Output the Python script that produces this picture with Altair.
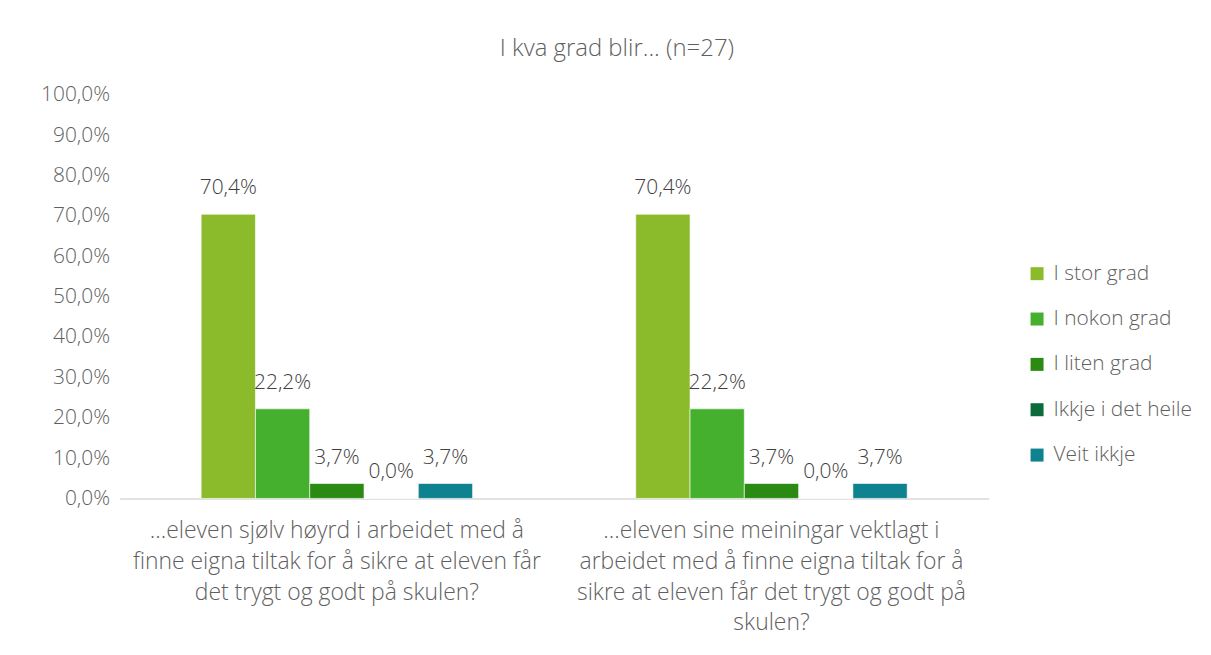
import altair as alt
import pandas as pd

questions = [
    "...eleven sjølv høyrd i arbeidet med å|finne eigna tiltak for å sikre at eleven får|det trygt og godt på skulen?",
    "...eleven sine meiningar vektlagt i|arbeidet med å finne eigna tiltak for å|sikre at eleven får det trygt og godt på|skulen?",
]
answers = ["I stor grad", "I nokon grad", "I liten grad", "Ikkje i det heile", "Veit ikkje"]
colors = ["#8BBB2A", "#44B02E", "#2A8A12", "#0B6B3A", "#0F8290"]
values_q1 = [0.704, 0.222, 0.037, 0.0, 0.037]
values_q2 = [0.704, 0.222, 0.037, 0.0, 0.037]
title_text = "I kva grad blir... (n=27)"

rows = []
for q, vals in zip(questions, [values_q1, values_q2]):
    for i, (a, v) in enumerate(zip(answers, vals)):
        rows.append({"question": q, "answer": a, "order": i, "value": v})
df = pd.DataFrame(rows)

FONT = "Open Sans"
GREY = "#5F5F5F"
W = 300

x_enc = alt.X(
    "question:N",
    sort=questions,
    title=None,
    scale=alt.Scale(paddingInner=0.3754, paddingOuter=0.1876),
    axis=alt.Axis(
        labelAngle=0,
        labelExpr="split(datum.label, '|')",
        labelFont=FONT,
        labelFontSize=23,
        labelFontWeight=W,
        labelColor=GREY,
        labelLineHeight=31,
        labelPadding=21,
        labelBaseline="top",
        ticks=False,
        domainColor="#D9D9D9",
        domainWidth=1.5,
        labelLimit=0,
    ),
)

y_enc = alt.Y(
    "value:Q",
    title=None,
    scale=alt.Scale(domain=[0, 1]),
    axis=alt.Axis(
        values=[i / 10 for i in range(11)],
        labelExpr="replace(format(datum.value, '.1%'), '.', ',')",
        labelFont=FONT,
        labelFontSize=21,
        labelFontWeight=W,
        labelColor=GREY,
        labelPadding=10,
        ticks=False,
        domain=False,
        grid=False,
        minExtent=102,
        maxExtent=102,
    ),
)

base = alt.Chart(df).encode(
    x=x_enc,
    xOffset=alt.XOffset("answer:N", sort=answers, scale=alt.Scale(paddingInner=0, paddingOuter=0)),
    y=y_enc,
)

bars = base.mark_bar(stroke="white", strokeWidth=0.6).encode(
    color=alt.Color(
        "answer:N",
        sort=answers,
        scale=alt.Scale(domain=answers, range=colors),
        legend=alt.Legend(
            title=None,
            orient="none",
            legendX=910,
            legendY=169,
            symbolType="square",
            symbolSize=170,
            symbolStrokeWidth=0,
            labelFont=FONT,
            labelFontSize=21,
            labelFontWeight=W,
            labelColor=GREY,
            rowPadding=23.5,
            labelOffset=6,
            labelLimit=0,
        ),
    )
)

labels = base.mark_text(
    baseline="middle", dy=-26, font=FONT, fontSize=21, fontWeight=W, color="#404040"
).encode(text=alt.Text("label:N")).transform_calculate(
    label="replace(format(datum.value, '.1%'), '.', ',')"
)

chart = (
    alt.layer(bars, labels)
    .properties(
        width=872,
        height=405,
        title=alt.TitleParams(
            title_text,
            font=FONT,
            fontSize=24,
            fontWeight=W,
            color=GREY,
            offset=23,
            dx=63,
        ),
        padding={"left": 10, "top": 28, "right": 10, "bottom": 10},
    )
    .configure(background="white", view=alt.ViewConfig(strokeWidth=0, strokeOpacity=0))
)

chart.save("out.html", embed_options={"renderer": "svg", "actions": False})
